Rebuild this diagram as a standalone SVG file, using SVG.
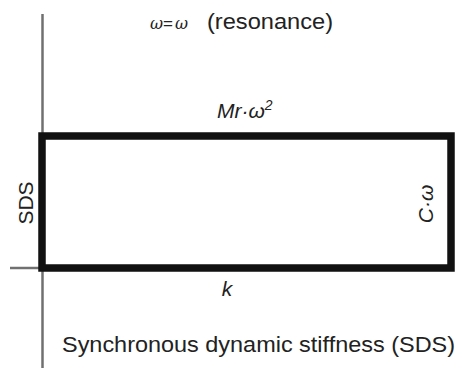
<svg xmlns="http://www.w3.org/2000/svg" width="461" height="368" viewBox="0 0 461 368">
<style>
.axis{stroke:#707070;stroke-width:2.5;fill:none}
.box{stroke:#111;stroke-width:7.5;fill:none;stroke-linejoin:miter}
.t{font-family:"Liberation Sans",Arial,sans-serif;fill:#222;font-size:21px}
.i{font-style:italic}
.w{font-family:"DejaVu Serif",serif;font-style:italic;font-size:16px}
</style>
<rect width="461" height="368" fill="#fff"/>
<g id="connectors">
<line class="axis" x1="42.5" y1="14" x2="42.5" y2="368"/>
<line class="axis" x1="10" y1="268" x2="42" y2="268"/>
<rect class="box" x="42" y="136" width="409" height="132"/>
</g>
<g id="title"><text class="t" y="29" style="font-size:22px"><tspan x="150" class="w">ω</tspan><tspan x="163" style="font-size:17px">=</tspan><tspan x="175" class="w">ω</tspan><tspan x="207" textLength="126" lengthAdjust="spacingAndGlyphs">(resonance)</tspan></text></g>
<g id="top-label"><text class="t i" x="217" y="118">Mr·ω<tspan style="font-size:14px" dy="-8">2</tspan></text></g>
<g id="left-label"><text class="t" transform="translate(33,203) rotate(-90)" text-anchor="middle">SDS</text></g>
<g id="right-label"><text class="t i" transform="translate(433,204) rotate(-90)" text-anchor="middle">C·ω</text></g>
<g id="bottom-label"><text class="t i" x="227" y="296" text-anchor="middle">k</text></g>
<g id="caption"><text class="t" x="62" y="352" style="font-size:22px" textLength="393" lengthAdjust="spacingAndGlyphs">Synchronous dynamic stiffness (SDS)</text></g>
</svg>
